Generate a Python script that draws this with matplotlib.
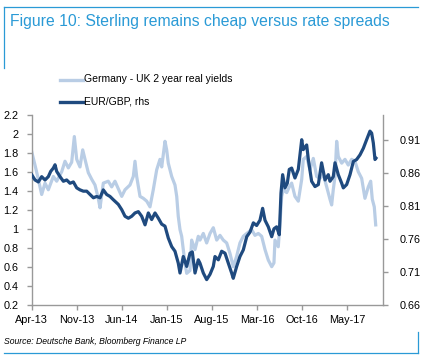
import matplotlib
matplotlib.use("Agg")
import matplotlib.pyplot as plt
from matplotlib.lines import Line2D

# ---- data (x = months since Apr-2013) ----
spread_months = [0.0, 0.51, 1.03, 1.55, 2.07, 2.58, 3.36, 3.88, 4.66, 5.17, 5.69, 6.21, 6.62, 6.99,
                 7.50, 7.92, 8.28, 8.79, 9.32, 9.83, 10.34, 10.61, 11.12, 11.89, 12.42, 12.93, 13.45,
                 13.98, 14.49, 15.26, 15.78, 16.04, 16.30, 16.82, 17.33, 17.86, 18.37, 18.88, 19.41,
                 19.92, 20.19, 20.70, 20.96, 21.21, 21.74, 22.25, 22.52, 22.76, 23.03, 23.29, 23.54,
                 23.80, 24.07, 24.58, 24.84, 25.36, 25.87, 26.13, 26.65, 27.17, 27.69, 28.20, 28.73,
                 29.24, 29.75, 30.28, 30.79, 31.30, 31.83, 32.34, 32.86, 33.39, 34.16, 34.67, 35.19,
                 35.71, 36.23, 36.74, 37.27, 37.62, 37.78, 38.29, 38.56, 38.82, 39.07, 39.60, 40.00,
                 40.37, 40.88, 41.40, 41.93, 42.17, 42.70, 43.21, 43.73, 44.25, 44.77, 45.28, 45.81,
                 46.32, 46.58, 46.83, 47.10, 47.36, 47.61, 48.14, 48.65, 49.16, 49.69, 50.20, 50.71,
                 51.24, 51.75, 52.27, 52.64, 52.89, 53.20, 53.42]
spread_values = [1.81, 1.67, 1.52, 1.36, 1.48, 1.41, 1.55, 1.50, 1.60, 1.71, 1.64, 1.70, 1.97, 1.73,
                 1.65, 1.83, 1.73, 1.59, 1.52, 1.46, 1.32, 1.22, 1.48, 1.50, 1.44, 1.50, 1.42,
                 1.34, 1.41, 1.46, 1.55, 1.71, 1.55, 1.34, 1.32, 1.29, 1.23, 1.41, 1.62,
                 1.73, 1.65, 1.92, 1.83, 1.69, 1.55, 1.46, 1.34, 1.13, 0.99, 0.92, 0.78,
                 0.64, 0.53, 0.56, 0.88, 0.78, 0.92, 0.88, 0.95, 0.85, 0.95, 1.01, 0.88,
                 0.93, 0.88, 0.85, 0.74, 0.60, 0.71, 0.85, 0.92, 0.95, 0.99, 0.93, 0.95,
                 0.92, 0.78, 0.67, 0.60, 0.64, 0.88, 0.81, 1.06, 1.34, 1.41, 1.38, 1.44,
                 1.48, 1.34, 1.29, 1.52, 1.73, 1.76, 1.62, 1.74, 1.55, 1.53, 1.57, 1.44,
                 1.31, 1.25, 1.41, 1.55, 1.92, 1.76, 1.69, 1.73, 1.67, 1.73, 1.71, 1.60,
                 1.53, 1.32, 1.44, 1.50, 1.31, 1.23, 1.04]

eurgbp_months = [0.0, 0.51, 1.03, 1.55, 2.07, 2.58, 2.95, 3.36, 3.62, 3.88, 4.40, 4.92, 5.43, 5.95,
                 6.47, 6.99, 7.50, 8.02, 8.54, 9.06, 9.58, 10.09, 10.61, 11.12, 11.64, 12.16, 12.68,
                 13.45, 13.98, 14.49, 15.01, 15.53, 16.04, 16.56, 17.08, 17.60, 18.11, 18.63, 19.15,
                 19.67, 20.19, 20.70, 21.21, 21.74, 22.25, 22.76, 23.03, 23.54, 24.07, 24.58, 24.94,
                 25.36, 25.87, 26.13, 26.65, 27.17, 27.69, 28.20, 28.46, 28.98, 29.50, 30.02, 30.53,
                 31.05, 31.30, 31.83, 32.34, 32.86, 33.39, 33.90, 34.42, 34.93, 35.45, 35.86, 36.23,
                 36.74, 37.27, 37.62, 38.03, 38.45, 38.71, 38.97, 39.33, 39.69, 40.00, 40.37, 40.88,
                 41.40, 41.93, 42.17, 42.70, 42.96, 43.47, 43.99, 44.51, 45.02, 45.55, 46.06, 46.32,
                 46.83, 47.10, 47.61, 48.14, 48.39, 48.91, 49.43, 49.95, 50.46, 50.98, 51.50, 52.01,
                 52.53, 52.79, 53.05, 53.31, 53.46]
eurgbp_values = [0.857, 0.849, 0.846, 0.854, 0.849, 0.854, 0.862, 0.867, 0.872, 0.862, 0.854, 0.847,
                 0.849, 0.844, 0.846, 0.837, 0.834, 0.832, 0.832, 0.827, 0.822, 0.824, 0.822, 0.834,
                 0.827, 0.824, 0.819, 0.812, 0.804, 0.794, 0.791, 0.794, 0.799, 0.801, 0.794, 0.781,
                 0.799, 0.789, 0.799, 0.791, 0.782, 0.779, 0.761, 0.748, 0.741, 0.723, 0.708, 0.733,
                 0.718, 0.738, 0.740, 0.708, 0.728, 0.723, 0.708, 0.698, 0.706, 0.718, 0.733, 0.728,
                 0.741, 0.738, 0.723, 0.708, 0.700, 0.718, 0.733, 0.743, 0.763, 0.770, 0.784, 0.780,
                 0.788, 0.806, 0.788, 0.778, 0.763, 0.775, 0.778, 0.766, 0.829, 0.857, 0.837, 0.844,
                 0.865, 0.867, 0.852, 0.865, 0.910, 0.895, 0.902, 0.880, 0.847, 0.839, 0.842, 0.875,
                 0.849, 0.857, 0.847, 0.854, 0.875, 0.857, 0.844, 0.837, 0.842, 0.857, 0.877, 0.880,
                 0.887, 0.897, 0.910, 0.923, 0.920, 0.905, 0.880, 0.882]

x_tick_pos = [0, 7, 14, 21, 28, 35, 42, 49]
x_tick_labels = ["Apr-13", "Nov-13", "Jun-14", "Jan-15", "Aug-15", "Mar-16", "Oct-16", "May-17"]
left_ticks = [0.2, 0.4, 0.6, 0.8, 1.0, 1.2, 1.4, 1.6, 1.8, 2.0, 2.2]
left_labels = ["0.2", "0.4", "0.6", "0.8", "1", "1.2", "1.4", "1.6", "1.8", "2", "2.2"]
right_ticks = [0.66, 0.71, 0.76, 0.81, 0.86, 0.91]
right_labels = ["0.66", "0.71", "0.76", "0.81", "0.86", "0.91"]

series_names = ["Germany - UK 2 year real yields", "EUR/GBP, rhs"]
title_text = "Figure 10: Sterling remains cheap versus rate spreads"
source_text = "Source: Deutsche Bank, Bloomberg Finance LP"

LIGHT = "#b9cde5"
DARK = "#1f4a7f"
FRAME = "#2a9ad6"
SPINE = "#999999"

plt.rcParams['font.family'] = ['Liberation Sans', 'DejaVu Sans']

W, H = 433, 364
fig = plt.figure(figsize=(W / 100, H / 100), dpi=100)

ax = fig.add_axes([31.7 / W, 1 - 304.7 / H, (383.3 - 31.7) / W, (304.7 - 114.7) / H])
ax2 = ax.twinx()

ax.plot(spread_months, spread_values, color=LIGHT, lw=2.3, solid_joinstyle='round', zorder=2)
ax2.plot(eurgbp_months, eurgbp_values, color=DARK, lw=2.3, solid_joinstyle='round', zorder=3)

ax.set_xlim(0, 54.6)
ax.set_ylim(0.2, 2.2)
ax2.set_ylim(0.66, 0.66 + 0.25 * 190 / 165)

ax.set_xticks(x_tick_pos)
ax.set_xticklabels(x_tick_labels)
ax.set_yticks(left_ticks)
ax.set_yticklabels(left_labels)
ax2.set_yticks(right_ticks)
ax2.set_yticklabels(right_labels)

for a in (ax, ax2):
    a.patch.set_visible(False)
    a.spines['top'].set_visible(False)
    for s in ('left', 'right', 'bottom'):
        a.spines[s].set_color(SPINE)
        a.spines[s].set_linewidth(1.0)
    a.tick_params(axis='both', colors=SPINE, labelcolor='black', labelsize=7.8,
                  length=3.5, width=1.0, direction='out')
ax.spines['right'].set_visible(False)
ax2.spines['left'].set_visible(False)
ax2.spines['bottom'].set_visible(False)
ax.tick_params(axis='y', pad=6)
ax2.tick_params(axis='y', pad=8)
ax.tick_params(axis='x', pad=4)
ax.set_zorder(ax2.get_zorder() - 1)
ax2.patch.set_visible(False)

# title and frame
fig.text(10 / W, 1 - 21.5 / H, title_text, color=FRAME, fontsize=11.3, va='center', ha='left')
fig.add_artist(Line2D([4 / W, 418 / W], [1 - 7 / H, 1 - 7 / H], color=FRAME, lw=0.9))
fig.add_artist(Line2D([4.3 / W, 4.3 / W], [1 - 7 / H, 1 - 68 / H], color=FRAME, lw=0.9))
fig.add_artist(Line2D([4 / W, 417.5 / W], [1 - 353 / H, 1 - 353 / H], color=FRAME, lw=0.9))
fig.add_artist(Line2D([417.5 / W, 417.5 / W], [1 - 332 / H, 1 - 353 / H], color=FRAME, lw=0.9))

# legend
leg_y = [79.5, 102]
for name, col, yy in zip(series_names, [LIGHT, DARK], leg_y):
    fig.add_artist(Line2D([59.5 / W, 82.5 / W], [1 - yy / H, 1 - yy / H], color=col, lw=2.4))
    fig.text(83.5 / W, 1 - yy / H, name, fontsize=7.5, va='center', ha='left', color='black')

fig.text(4 / W, 1 - 342 / H, source_text, fontsize=6.2, style='italic', va='center', ha='left',
         color='black')

fig.savefig("out.png", dpi=100)
